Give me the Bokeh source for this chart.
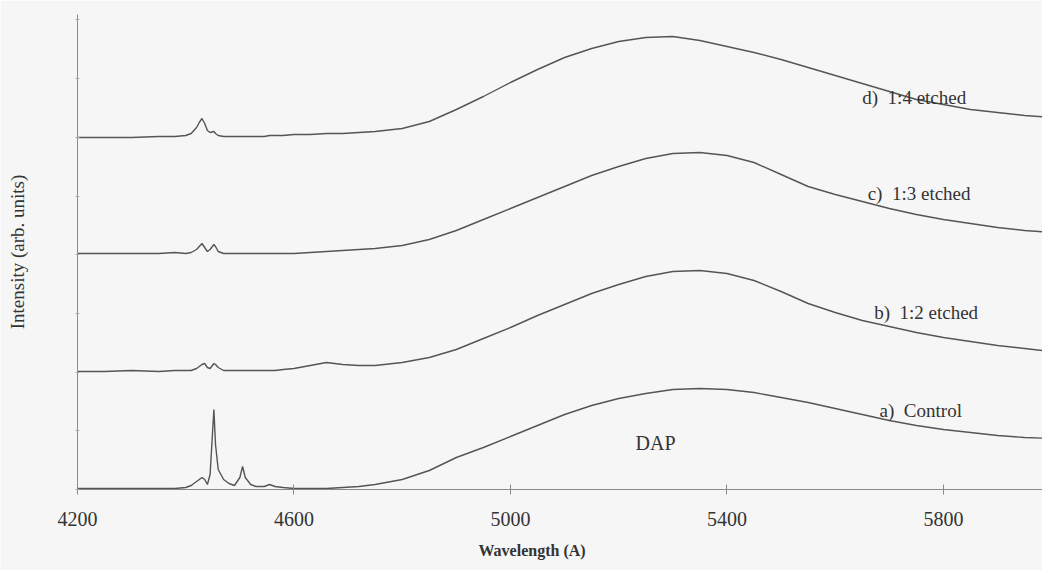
from bokeh.plotting import figure
from bokeh.models import Range1d, Label, FixedTicker, ColumnDataSource, Title, CustomJSTickFormatter
from bokeh.embed import file_html
from bokeh.resources import INLINE

# ---- data ----
wavelength = [4200, 4250, 4300, 4350, 4380, 4400, 4410, 4420, 4425, 4430, 4435, 4440, 4445,
              4452, 4455, 4460, 4470, 4480, 4490, 4500, 4505, 4510, 4520, 4530, 4545, 4555,
              4565, 4580, 4600, 4630, 4660, 4690, 4720, 4750, 4800, 4850, 4900, 4950, 5000,
              5050, 5100, 5150, 5200, 5250, 5300, 5350, 5400, 5450, 5500, 5550, 5600, 5650,
              5700, 5750, 5800, 5850, 5900, 5950, 6000]

control = [1, 1, 1, 1, 1, 2, 4, 8, 10, 12, 10, 5, 15,
           80, 45, 20, 10, 6, 4, 12, 23, 12, 5, 3, 3, 5,
           3, 2, 1, 1, 1, 2, 3, 5, 10, 19, 32, 42, 53,
           64, 75, 84, 91, 96, 100, 101, 100, 97, 92, 87, 81, 75,
           69, 64, 60, 57, 54, 52, 51]

etched_1_2 = [0, 0, 1, 0, 1, 1, 1, 3, 5, 7, 8, 4, 3,
              8, 7, 4, 1, 1, 1, 1, 1, 1, 1, 1, 1, 1,
              1, 2, 3, 6, 9, 7, 6, 6, 9, 14, 22, 33, 44,
              56, 67, 78, 87, 95, 100, 101, 98, 91, 80, 68, 59, 51,
              45, 39, 34, 30, 26, 23, 20]

etched_1_3 = [1, 1, 1, 1, 2, 1, 2, 5, 8, 11, 7, 3, 5,
              10, 8, 3, 1, 1, 1, 1, 1, 1, 1, 1, 1, 1,
              1, 1, 1, 2, 3, 4, 5, 6, 9, 15, 24, 35, 46,
              57, 68, 79, 88, 96, 101, 102, 99, 92, 80, 68, 60, 53,
              46, 40, 35, 31, 27, 24, 22]

etched_1_4 = [0, 0, 0, 1, 1, 2, 4, 10, 15, 19, 14, 7, 5,
              6, 4, 2, 1, 1, 1, 1, 1, 1, 1, 1, 1, 2,
              2, 2, 3, 3, 4, 4, 5, 6, 9, 16, 28, 41, 55,
              68, 80, 89, 96, 100, 101, 97, 91, 85, 78, 70, 62, 54,
              46, 38, 33, 28, 25, 22, 20]

series = [control, etched_1_2, etched_1_3, etched_1_4]
offsets = [0, 118, 235, 352]          # vertical stacking of the spectra
NB = "\u00a0"
labels = ["a)" + NB + " Control", "b)" + NB + " 1:2 etched",
          "c)" + NB + " 1:3 etched", "d)" + NB + " 1:4 etched"]
label_x = [5682, 5672, 5660, 5650]
label_y = [79, 177, 296, 392]

x_ticks = [4200, 4600, 5000, 5400, 5800]

FONT = "Liberation Serif"
BG = "#f6f6f6"
TXT = "#333333"

p = figure(width=1042, height=570, output_backend="svg", toolbar_location=None,
           x_range=Range1d(4200, 5983), y_range=Range1d(0, 475),
           min_border_left=77, min_border_right=0, min_border_top=14, min_border_bottom=81)
p.background_fill_color = BG
p.border_fill_color = BG
p.outline_line_color = None
p.xgrid.visible = False
p.ygrid.visible = False

for vals, off in zip(series, offsets):
    src = ColumnDataSource(dict(x=wavelength, y=[v + off for v in vals]))
    p.line("x", "y", source=src, line_color="#555555", line_width=1.4)

# x axis
xa = p.xaxis[0]
xa.ticker = FixedTicker(ticks=x_ticks)
xa.minor_tick_line_color = None
xa.major_tick_in = 5
xa.major_tick_out = 5
xa.axis_line_color = "#8a8a8a"
xa.major_tick_line_color = "#8a8a8a"
xa.major_label_text_font = FONT
xa.major_label_text_font_size = "20px"
xa.major_label_text_color = TXT
xa.major_label_standoff = 17

# y axis (no numbers)
ya = p.yaxis[0]
ya.ticker = FixedTicker(ticks=[k * 58.7 for k in range(9)])
ya.formatter = CustomJSTickFormatter(code="return ''")
ya.major_label_text_font_size = "1px"
ya.minor_tick_line_color = None
ya.major_tick_in = 2
ya.major_tick_out = 2
ya.axis_line_color = "#8a8a8a"
ya.major_tick_line_color = "#aaaaaa"
ya.axis_label = "Intensity (arb. units)"
ya.axis_label_text_font = FONT
ya.axis_label_text_font_size = "19px"
ya.axis_label_text_font_style = "normal"
ya.axis_label_text_color = TXT
ya.axis_label_standoff = 48

# x axis title
p.add_layout(Title(text="Wavelength (A)", align="left", offset=401, text_font=FONT,
                   text_font_size="16px", text_font_style="bold", text_color=TXT,
                   standoff=22), "below")

# curve annotations
for t, lx, ly in zip(labels, label_x, label_y):
    p.add_layout(Label(x=lx, y=ly, text=t, text_font=FONT, text_font_size="19px",
                       text_color=TXT, text_align="left", text_baseline="middle"))
p.add_layout(Label(x=5231, y=47, text="DAP", text_font=FONT, text_font_size="20px",
                   text_color=TXT, text_align="left", text_baseline="middle"))

open("out.html", "w").write(file_html(p, INLINE))
